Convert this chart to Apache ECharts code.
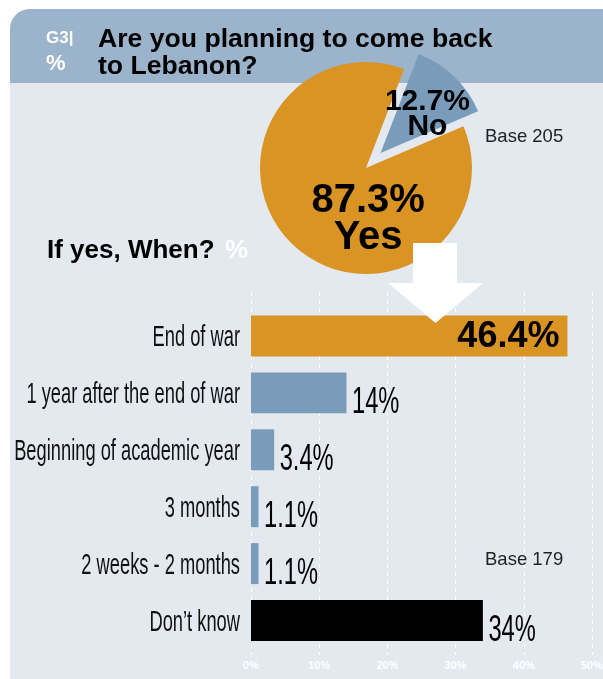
<!DOCTYPE html>
<html>
<head>
<meta charset="utf-8">
<script src="https://cdn.jsdelivr.net/npm/echarts@6/dist/echarts.min.js"></script>
<style>
html,body{margin:0;padding:0;background:#ffffff;}
#main,#probe{width:603px;height:679px;}
#probe{position:absolute;left:-2000px;top:0;}
</style>
</head>
<body>
<div id="main"></div>
<div id="probe"></div>
<script>
// ---- data ----
var pieNames = ['No', 'Yes'];
var pieValues = [12.7, 87.3];
var categories = ['End of war', '1 year after the end of war', 'Beginning of academic year', '3 months', '2 weeks - 2 months', 'Don\u2019t know'];
var barValues = [46.4, 14, 3.4, 1.1, 1.1, 34];
var xTicks = [0, 10, 20, 30, 40, 50];
var titleText = 'Are you planning to come back\nto Lebanon?';
var subTitle = 'If yes, When?';
var pieBase = 'Base 205';
var barBase = 'Base 179';

// ---- styles ----
var ORANGE = '#d99423', BLUE = '#7a9cbb', BLACK = '#000000';
var PANEL = '#e4e9f0', HEADER = '#9cb3cc';
var barColors = [ORANGE, BLUE, BLUE, BLUE, BLUE, BLACK];
var SANS = '"Liberation Sans",Arial,sans-serif';

var pieData = pieNames.map(function (n, i) {
  var item = { name: n, value: pieValues[i] };
  if (i === 0) {
    item.selected = true;
    item.itemStyle = { color: BLUE };
    item.label = { fontSize: 30, lineHeight: 25 };
  } else {
    item.itemStyle = { color: ORANGE };
    item.label = { fontSize: 40, lineHeight: 37 };
  }
  return item;
});

var barData = barValues.map(function (v, i) {
  var item = { value: v, itemStyle: { color: barColors[i] } };
  if (i === 0) {
    item.label = { show: true, position: 'insideRight', distance: 8, fontFamily: SANS, fontWeight: 'bold', fontSize: 36, color: '#000', offset: [0, 1], formatter: '{c}%' };
  }
  return item;
});

var baseGraphics = [
  { type: 'rect', z: -10, shape: { x: 10, y: 9, width: 600, height: 680, r: [20, 0, 0, 8] }, style: { fill: PANEL } },
  { type: 'rect', z: -9, shape: { x: 10, y: 9, width: 600, height: 74, r: [20, 0, 0, 0] }, style: { fill: HEADER } },
  { type: 'text', z: 5, left: 46, top: 30, style: { text: 'G3|', fill: '#ffffff', font: 'bold 17px ' + SANS } },
  { type: 'text', z: 5, left: 46, top: 53, style: { text: '%', fill: '#ffffff', font: 'bold 22px ' + SANS } },
  { type: 'text', z: 5, left: 98, top: 26, style: { text: titleText, fill: '#000000', font: 'bold 26.6px ' + SANS, lineHeight: 27 } },
  { type: 'text', z: 5, left: 47, top: 238, style: { text: subTitle, fill: '#000000', font: 'bold 26px ' + SANS } },
  { type: 'text', z: 5, left: 225, top: 238, style: { text: '%', fill: '#ffffff', font: 'bold 26px ' + SANS } },
  { type: 'text', z: 5, left: 485, top: 127, style: { text: pieBase, fill: '#222222', font: '18.5px ' + SANS } },
  { type: 'text', z: 5, left: 485, top: 550, style: { text: barBase, fill: '#222222', font: '18.5px ' + SANS } },
  { type: 'polygon', z: 20, shape: { points: [[413, 243], [457, 243], [457, 283], [483, 283], [435.5, 323], [388, 283], [413, 283]] }, style: { fill: '#ffffff' } }
];

var grids = [
  { left: 251, right: 11, top: 307.5, bottom: 30, containLabel: false, outerBoundsMode: 'none' },
  { left: 251, right: 11, top: 292, bottom: 24, containLabel: false, outerBoundsMode: 'none' }
];
var xAxes = [
  { gridIndex: 0, type: 'value', min: 0, max: 50, interval: 10, show: false },
  {
    gridIndex: 1, type: 'value', min: 0, max: 50, interval: 10,
    axisLine: { show: false }, axisTick: { show: false },
    splitLine: { show: true, lineStyle: { color: '#ffffff', type: [4, 4], width: 1 } },
    axisLabel: { color: '#ffffff', fontWeight: 'bold', fontSize: 11, fontFamily: SANS, margin: 5,
      formatter: function (v) { return xTicks.indexOf(v) >= 0 ? v + '%' : ''; } }
  }
];
var yAxes = [
  {
    gridIndex: 0, type: 'category', data: categories, inverse: true,
    axisLine: { show: false }, axisTick: { show: false }, splitLine: { show: false },
    axisLabel: { show: false }
  },
  { gridIndex: 1, type: 'value', show: false }
];
var barSeries = {
  type: 'bar', xAxisIndex: 0, yAxisIndex: 0, data: barData, barWidth: '72%', z: 3,
  label: { show: false }
};

// probe chart: same grid and axes, used only to read the scales' pixel positions
var probe = echarts.init(document.getElementById('probe'));
probe.setOption({ animation: false, grid: grids, xAxis: xAxes, yAxis: yAxes, series: [barSeries] });
var extra = [];
var zeroX = probe.convertToPixel({ xAxisIndex: 0 }, 0);
categories.forEach(function (c, i) {
  var cy = probe.convertToPixel({ yAxisIndex: 0 }, c);
  extra.push({
    type: 'text', z: 6, x: zeroX - 11, y: cy + 2, scaleX: 0.61,
    style: { text: c, fill: '#111111', font: '30px ' + SANS, align: 'right', verticalAlign: 'middle', textAlign: 'right', textVerticalAlign: 'middle' }
  });
  if (i > 0) {
    var p = probe.convertToPixel({ xAxisIndex: 0, yAxisIndex: 0 }, [barValues[i], c]);
    extra.push({
      type: 'text', z: 6, x: p[0] + 5.5, y: p[1] + 10, scaleX: 0.64,
      style: { text: barValues[i] + '%', fill: '#000000', font: '37px ' + SANS, align: 'left', verticalAlign: 'middle', textAlign: 'left', textVerticalAlign: 'middle' }
    });
  }
});
probe.dispose();

var chart = echarts.init(document.getElementById('main'));
chart.setOption({
  backgroundColor: '#ffffff',
  animation: false,
  graphic: baseGraphics.concat(extra),
  grid: grids,
  xAxis: xAxes,
  yAxis: yAxes,
  series: [
    barSeries,
    {
      type: 'pie', center: [366, 168], radius: 106, startAngle: 68.9, clockwise: true,
      selectedMode: 'single', selectedOffset: 21, z: 4,
      data: pieData,
      emphasis: { disabled: true },
      label: {
        show: true, position: 'inside', fontFamily: SANS, fontWeight: 'bold', color: '#000',
        formatter: function (p) { return p.value + '%\n' + p.name; }
      },
      labelLine: { show: false },
      labelLayout: function (p) {
        return p.dataIndex === 0 ? { dx: 8, dy: 2 } : { dx: 41, dy: 11 };
      }
    }
  ]
});
</script>
</body>
</html>
